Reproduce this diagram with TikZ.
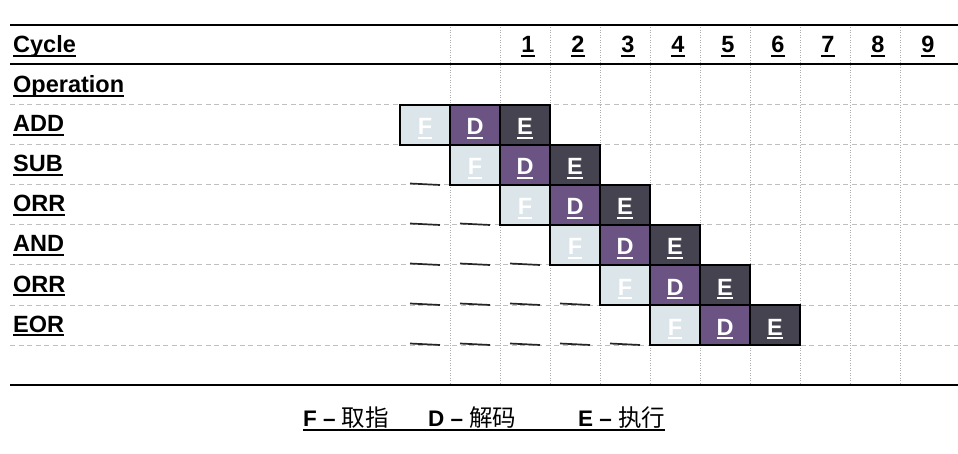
\documentclass[tikz,border=0pt]{standalone}
\usepackage{fontspec}
\setmainfont{Liberation Sans}
\newfontfamily\cjk{Noto Sans CJK SC}
\usetikzlibrary{positioning}
\definecolor{fetchc}{HTML}{DCE6EA}
\definecolor{decodec}{HTML}{6B5483}
\definecolor{execc}{HTML}{45434F}
\newcommand\uword[1]{\setbox0\hbox{#1}\rlap{\rule[-3.6pt]{\wd0}{1.8pt}}\box0}
\newcommand\cjkword[1]{{\cjk\mdseries\fontsize{23.5}{26}\selectfont #1}}
\tikzset{
  tableline/.style={line width=1.5pt, black},
  rowline/.style={line width=1pt, gray!50, dash pattern=on 5pt off 3.5pt},
  colline/.style={line width=0.8pt, gray!65, dash pattern=on 1pt off 1.5pt},
  oplabel/.style={anchor=base west, inner sep=0pt},
  cycnum/.style={anchor=base, inner sep=0pt},
  stagebox/.style={draw=black, line width=1.3pt, text=white, minimum width=50pt,
    minimum height=40pt, inner sep=0pt, outer sep=0pt, text height=20pt, text depth=0pt},
  fetchbox/.style={stagebox, fill=fetchc},
  decodebox/.style={stagebox, fill=decodec},
  execbox/.style={stagebox, fill=execc},
  blankline/.style={line width=1.7pt, black!85},
}
\begin{document}
\begin{tikzpicture}[x=1pt, y=-1pt, font=\fontsize{23.5}{27}\selectfont\bfseries]
  \useasboundingbox (0,0) rectangle (958,454);
  % grid of the table
  \foreach \y in {105,145,...,345} \draw[rowline] (10,\y) -- (958,\y);
  \foreach \x in {450,500,...,900} \draw[colline] (\x,25) -- (\x,385);
  \foreach \y in {25,64,385} \draw[tableline] (10,\y) -- (958,\y);
  % header
  \node[oplabel] (cycle) at (13,53) {\uword{Cycle}};
  \node[oplabel] (operation) at (13,93) {\uword{Operation}};
  \foreach \n in {1,...,9} \node[cycnum] (cyc\n) at ({478+50*\n},53) {\uword{\n}};
  % instructions in the pipeline
  \foreach \op [count=\i] in {ADD,SUB,ORR,AND,ORR,EOR} {
    \pgfmathsetmacro\rowy{65+40*\i}
    \pgfmathsetmacro\colx{350+50*\i}
    \node[oplabel] (op\i) at (13,{\rowy+27}) {\uword{\op}};
    \node[fetchbox] (f\i) at ({\colx+25},{\rowy+20}) {\uword{F}};
    \node[decodebox, right=0pt of f\i] (d\i) {\uword{D}};
    \node[execbox, right=0pt of d\i] (e\i) {\uword{E}};
    \ifnum\i>1
      \foreach \j in {2,...,\i} \draw[blankline] ({310+50*\j},{\rowy+38.5}) -- ++(30,1.5);
    \fi
  }
  % legend
  \begin{scope}[font=\fontsize{22.5}{26}\selectfont\bfseries]
    \node[oplabel] (legf) at (303,426) {F – \cjkword{取指}};
    \node[oplabel] (legd) at (428,426) {D – \cjkword{解码}};
    \node[oplabel] (lege) at (578,426) {E – \cjkword{执行}};
  \end{scope}
  \draw[line width=1.6pt] ([yshift=-4pt]legf.base west) -- ([yshift=-4pt]lege.base east);
\end{tikzpicture}
\end{document}
